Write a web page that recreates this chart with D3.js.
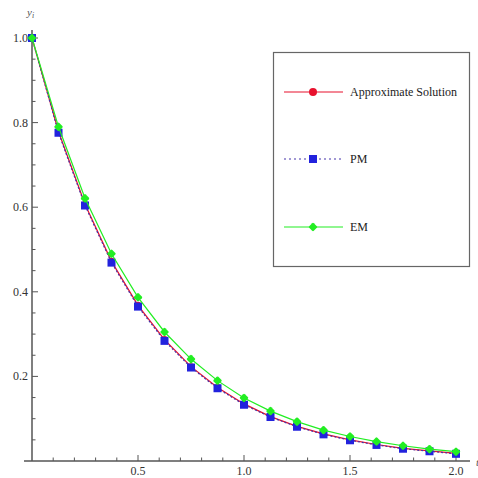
<!DOCTYPE html>
<html>
<head>
<meta charset="utf-8">
<script src="https://cdn.jsdelivr.net/npm/d3@7"></script>
<style>
body { margin: 0; background: #fff; }
text { font-family: "Liberation Serif", "DejaVu Serif", serif; }
</style>
</head>
<body>
<div id="vis"></div>
<script>
const FRAME_WIDTH = 478;
const FRAME_HEIGHT = 478;

// data
const tValues = [0, 0.125, 0.25, 0.375, 0.5, 0.625, 0.75, 0.875, 1.0, 1.125, 1.25, 1.375, 1.5, 1.625, 1.75, 1.875, 2.0];
const approxValues = [1, 0.779, 0.607, 0.472, 0.368, 0.287, 0.223, 0.174, 0.135, 0.105, 0.082, 0.064, 0.050, 0.039, 0.030, 0.024, 0.018];
const pmValues = [1, 0.776, 0.604, 0.469, 0.365, 0.284, 0.221, 0.172, 0.133, 0.104, 0.081, 0.063, 0.049, 0.038, 0.029, 0.023, 0.017];
const emValues = [1, 0.790, 0.621, 0.490, 0.387, 0.305, 0.241, 0.190, 0.149, 0.118, 0.093, 0.073, 0.058, 0.046, 0.036, 0.028, 0.022];
const xTicks = [0.5, 1.0, 1.5, 2.0];
const yTicks = [0.2, 0.4, 0.6, 0.8, 1.0];
const seriesNames = ["Approximate Solution", "PM", "EM"];

const svg = d3.select("#vis")
  .append("svg")
    .attr("width", FRAME_WIDTH)
    .attr("height", FRAME_HEIGHT);

const x = d3.scaleLinear().domain([0, 2]).range([32, 456]);
const y = d3.scaleLinear().domain([0, 1]).range([461, 38]);

const AXIS = "#555";

// x axis
svg.append("line")
  .attr("x1", 24).attr("x2", 470)
  .attr("y1", y(0)).attr("y2", y(0))
  .attr("stroke", AXIS).attr("stroke-width", 1.5);

d3.range(1, 21).forEach(function (i) {
  const v = i / 10;
  const major = i % 5 === 0;
  svg.append("line")
    .attr("x1", x(v)).attr("x2", x(v))
    .attr("y1", y(0)).attr("y2", y(0) - (major ? 6 : 3.5))
    .attr("stroke", AXIS).attr("stroke-width", 1);
});

svg.selectAll(".xlab")
  .data(xTicks)
  .enter()
  .append("text")
    .attr("x", d => x(d))
    .attr("y", 475)
    .attr("text-anchor", "middle")
    .attr("font-size", "12px")
    .attr("fill", "#333")
    .text(d => d.toFixed(1));

svg.append("text")
  .attr("x", 476).attr("y", 466)
  .attr("font-size", "11px").attr("font-style", "italic")
  .attr("fill", "#555")
  .text("t");

// y axis
svg.append("line")
  .attr("x1", x(0)).attr("x2", x(0))
  .attr("y1", 30).attr("y2", y(0))
  .attr("stroke", AXIS).attr("stroke-width", 1.5);

d3.range(1, 21).forEach(function (i) {
  const v = i / 20;
  const major = i % 4 === 0;
  svg.append("line")
    .attr("x1", x(0)).attr("x2", x(0) + (major ? 6 : 3.5))
    .attr("y1", y(v)).attr("y2", y(v))
    .attr("stroke", AXIS).attr("stroke-width", 1);
});

svg.selectAll(".ylab")
  .data(yTicks)
  .enter()
  .append("text")
    .attr("x", 28)
    .attr("y", d => y(d) + 4)
    .attr("text-anchor", "end")
    .attr("font-size", "12px")
    .attr("fill", "#333")
    .text(d => d.toFixed(1));

svg.append("text")
  .attr("x", 27).attr("y", 16)
  .attr("font-size", "11px").attr("font-style", "italic")
  .attr("fill", "#555")
  .text("y")
  .append("tspan")
    .attr("font-size", "8px").attr("dy", 2)
    .text("i");

// series
const line = d3.line().x(d => x(d[0])).y(d => y(d[1]));
const approx = tValues.map((t, i) => [t, approxValues[i]]);
const pm = tValues.map((t, i) => [t, pmValues[i]]);
const em = tValues.map((t, i) => [t, emValues[i]]);

const RED = "#e8112d", BLUE = "#2222dd", GREEN = "#22ee22";

svg.append("path").datum(approx).attr("d", line)
  .attr("fill", "none").attr("stroke", RED).attr("stroke-width", 1.2);
svg.selectAll(".ptA").data(approx).enter().append("circle")
  .attr("cx", d => x(d[0])).attr("cy", d => y(d[1])).attr("r", 3.5).attr("fill", RED);

svg.append("path").datum(pm).attr("d", line)
  .attr("fill", "none").attr("stroke", "#4433aa").attr("stroke-width", 1.2)
  .attr("stroke-dasharray", "2,2");
svg.selectAll(".ptP").data(pm).enter().append("rect")
  .attr("x", d => x(d[0]) - 4).attr("y", d => y(d[1]) - 4)
  .attr("width", 8).attr("height", 8).attr("fill", BLUE);

svg.append("path").datum(em).attr("d", line)
  .attr("fill", "none").attr("stroke", GREEN).attr("stroke-width", 1.2);
// rounded diamond marker
function emMarker(sel) {
  sel.append("rect")
    .attr("x", -3.3).attr("y", -3.3).attr("width", 6.6).attr("height", 6.6)
    .attr("rx", 1.2)
    .attr("transform", "rotate(45)")
    .attr("fill", GREEN);
}
svg.selectAll(".ptE").data(em).enter().append("g")
  .attr("transform", d => "translate(" + x(d[0]) + "," + y(d[1]) + ")")
  .call(emMarker);

// legend
svg.append("rect")
  .attr("x", 273.5).attr("y", 52.5).attr("width", 196).attr("height", 214)
  .attr("fill", "#fff").attr("stroke", "#666").attr("stroke-width", 1.2);

const legendY = [92, 159, 227];
const lg = svg.selectAll(".leg").data(seriesNames).enter().append("g")
  .attr("transform", (d, i) => "translate(0," + legendY[i] + ")");

lg.append("line")
  .attr("x1", 284).attr("x2", 343).attr("y1", 0).attr("y2", 0)
  .attr("stroke", (d, i) => [RED, "#4433aa", GREEN][i])
  .attr("stroke-width", 1.2)
  .attr("stroke-dasharray", (d, i) => i === 1 ? "2,3" : null);

lg.each(function (d, i) {
  const g = d3.select(this);
  if (i === 0) g.append("circle").attr("cx", 313).attr("cy", 0).attr("r", 4).attr("fill", RED);
  if (i === 1) g.append("rect").attr("x", 309).attr("y", -4).attr("width", 8).attr("height", 8).attr("fill", BLUE);
  if (i === 2) g.append("g").attr("transform", "translate(313,0)").call(emMarker);
});

lg.append("text")
  .attr("x", 350).attr("y", 4)
  .attr("font-size", "12px")
  .attr("fill", "#222")
  .text(d => d);
</script>
</body>
</html>
